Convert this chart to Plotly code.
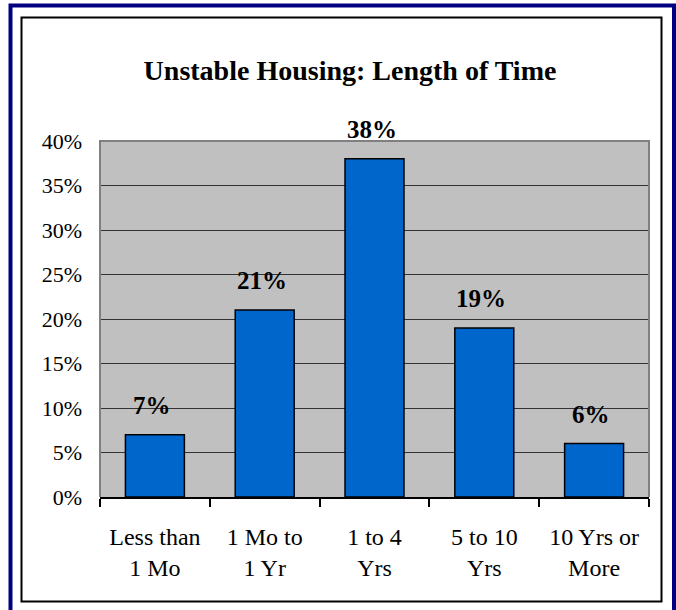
import plotly.graph_objects as go

categories = ["Less than<br>1 Mo", "1 Mo to<br>1 Yr", "1 to 4<br>Yrs", "5 to 10<br>Yrs", "10 Yrs or<br>More"]
values = [7, 21, 38, 19, 6]
labels = [f"{v}%" for v in values]
title_text = "Unstable Housing: Length of Time"

W, H = 676, 610
L, R, T, B = 100, 649, 141, 497

def px_x(px):
    return (px - L) / (R - L)

def px_y(py):
    return (B - py) / (B - T)

serif = "Liberation Serif, Times New Roman, serif"

fig = go.Figure(
    go.Bar(
        x=categories,
        y=values,
        marker=dict(color="#0066CC", line=dict(color="black", width=1.5)),
        hoverinfo="skip",
    )
)

for c, v, t in zip(categories, values, labels):
    fig.add_annotation(
        x=c, y=v, text=f"<b>{t}</b>", showarrow=False,
        yanchor="bottom", yshift=14, xshift=-3,
        font=dict(family=serif, size=25, color="black"),
    )

# plot area border (top, left, right)
fig.add_shape(type="path", xref="paper", yref="paper",
              path="M 0,0 L 0,1 L 1,1 L 1,0",
              line=dict(color="#808080", width=2), layer="above")
# inner black frame
fig.add_shape(type="rect", xref="paper", yref="paper",
              x0=px_x(21.5), x1=px_x(661.5), y0=px_y(601.5), y1=px_y(17.5),
              line=dict(color="black", width=2), layer="below")
# outer navy frame
fig.add_shape(type="rect", xref="paper", yref="paper",
              x0=px_x(10.5), x1=px_x(674), y0=px_y(616), y1=px_y(5.5),
              line=dict(color="#000080", width=4), layer="below")

fig.update_layout(
    width=W, height=H,
    margin=dict(l=L, r=W - R, t=T, b=H - B),
    paper_bgcolor="white",
    plot_bgcolor="#C0C0C0",
    bargap=0.463,
    showlegend=False,
    title=dict(
        text=f"<b>{title_text}</b>",
        x=350 / W, xref="container", xanchor="center",
        y=1 - 70 / H, yref="container", yanchor="middle",
        font=dict(family=serif, size=28, color="black"),
    ),
    font=dict(family=serif, color="black"),
)

fig.update_yaxes(
    range=[0, 40], dtick=5, ticksuffix="%",
    showgrid=True, gridcolor="#333333", gridwidth=1,
    zeroline=False, showline=False, ticks="",
    ticklabelstandoff=17,
    tickfont=dict(family=serif, size=22, color="black"),
    fixedrange=True,
)
fig.update_xaxes(
    showline=True, linecolor="black", linewidth=1.5,
    ticks="outside", tickson="boundaries", ticklen=8, tickcolor="black", tickwidth=1.5,
    showgrid=False,
    ticklabelstandoff=17,
    tickfont=dict(family=serif, size=24, color="black"),
    fixedrange=True,
)

fig.write_html(
    "out.html",
    config={"displayModeBar": False},
    post_script="document.body.style.margin='0';document.body.style.overflow='hidden';",
)
